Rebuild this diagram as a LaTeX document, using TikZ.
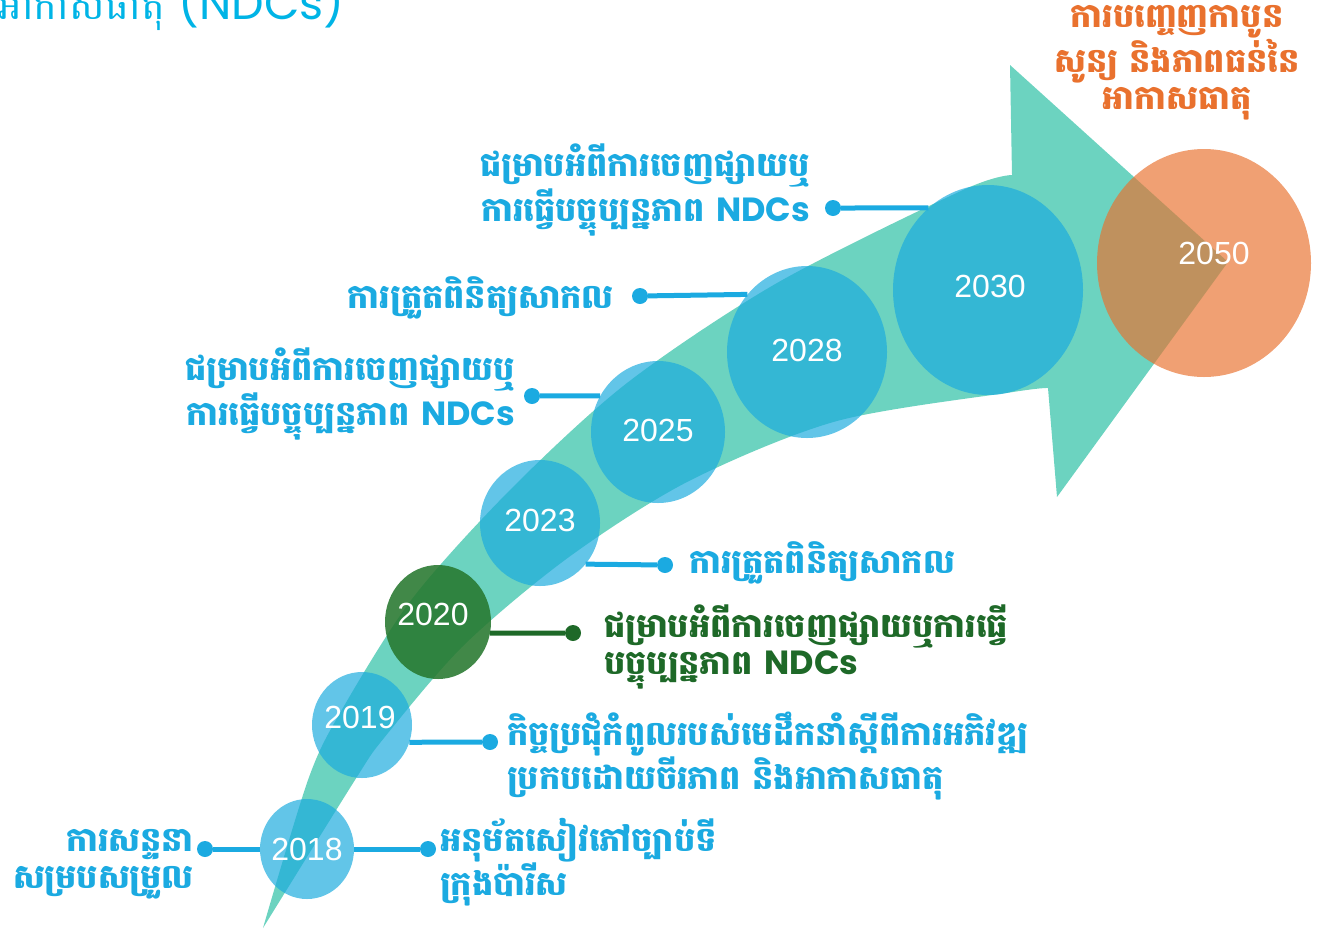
\documentclass[tikz,border=0pt]{standalone}
\usepackage{fontspec}
\usetikzlibrary{shapes.geometric}
\usetikzlibrary{positioning}
\newfontfamily\khmerfont[Script=Khmer]{Battambang}
\newfontfamily\latinfont{Poppins}
\newfontfamily\yearfont{Liberation Sans}
\definecolor{arrowteal}{HTML}{6CD3C0}
\definecolor{circblue}{HTML}{1CABDE}
\definecolor{lineblue}{HTML}{1BAAE1}
\definecolor{titleblue}{HTML}{00B4E6}
\definecolor{darkgreen}{HTML}{27782F}
\definecolor{textgreen}{HTML}{1E6928}
\definecolor{orangec}{HTML}{E9712E}

\begin{document}
\begin{tikzpicture}[x=1pt, y=-1pt,
			yr/.style={ellipse, inner sep=0pt, fill=circblue, fill opacity=0.69},
			yrtext/.style={inner sep=0pt, text=white, font=\yearfont\fontsize{32}{32}\selectfont},
			dot/.style={circle, fill=lineblue, inner sep=0pt, minimum size=16pt},
			conn/.style={draw=lineblue, line width=5pt},
			lbl/.style={text=lineblue, inner sep=0pt, font=\khmerfont\bfseries\fontsize{33.5}{37}\selectfont}]
			\useasboundingbox (0,0) rectangle (1322,930);
			\clip (0,0) rectangle (1322,930);
			
			% title, cut by the top edge
			\node[anchor=base east, inner sep=0pt, text=titleblue](title) at (345,19) {\khmerfont\fontsize{40}{40}\selectfont អាកាសធាតុ \latinfont\fontsize{46}{46}\selectfont (NDCs)};
			
			% the big arrow
			\fill[arrowteal] plot[smooth] coordinates {(263,928) (308,780) (340,713) (412,599) (511,489) (627,383) (777,283) (963,190) (1012,175)}
				-- (1010,65) -- (1228,262) -- (1057,497)
				-- plot[smooth] coordinates {(1048,388) (1013,392) (837,421) (689,481) (569,557) (464,645) (384,738) (355,780) (263,928)} -- cycle;
			
			% years
			\node[yr, minimum width=94pt, minimum height=100pt](y2018) at (307,849) {};
			\node[yr, minimum width=100pt, minimum height=106pt](y2019) at (362,725) {};
			\node[yr, fill=darkgreen, fill opacity=0.88, minimum width=106pt, minimum height=114pt](y2020) at (438,622) {};
			\node[yr, minimum width=120pt, minimum height=126pt](y2023) at (540,523) {};
			\node[yr, minimum width=134pt, minimum height=142pt](y2025) at (658,432) {};
			\node[yr, minimum width=160pt, minimum height=172pt](y2028) at (807,352) {};
			\node[yr, minimum width=190pt, minimum height=210pt](y2030) at (988,290) {};
			\node[yr, fill=orangec, fill opacity=0.67, minimum width=214pt, minimum height=228pt](y2050) at (1204,263) {};
			\node[yrtext](n2018) at (307,849) {2018};
			\node[yrtext](n2019) at (360,717) {2019};
			\node[yrtext](n2020) at (433,614) {2020};
			\node[yrtext](n2023) at (540,520) {2023};
			\node[yrtext](n2025) at (658,430) {2025};
			\node[yrtext](n2028) at (807,350) {2028};
			\node[yrtext](n2030) at (990,286) {2030};
			\node[yrtext](n2050) at (1214,253) {2050};
			
			% dots and connectors
			\node[dot](d2018l) at (205,849) {};
			\node[dot](d2018r) at (428,849) {};
			\node[dot](d2019) at (490,742) {};
			\node[dot, fill=textgreen](d2020) at (573,633) {};
			\node[dot](d2023) at (665,565) {};
			\node[dot](d2025) at (532,396) {};
			\node[dot](d2028) at (640,296) {};
			\node[dot](d2030) at (833,208) {};
			\draw[conn] (y2018.west) -- (d2018l);
			\draw[conn] (y2018.east) -- (d2018r);
			\draw[conn] (y2019.-20) -- (d2019);
			\draw[conn, draw=textgreen] (y2020.-12) -- (d2020);
			\draw[conn] (y2023.-42) -- (d2023);
			\draw[conn] (y2025.148) -- (d2025);
			\draw[conn] (y2028.136) -- (d2028);
			\draw[conn] (y2030.126) -- (d2030);
			
			% labels
			\node[lbl, anchor=east, align=right](t2018l) at (194,864) {ការសន្ទនា\\សម្របសម្រួល};
			\node[lbl, anchor=west, align=left](t2018r) at (440,862) {អនុម័តសៀវភៅច្បាប់ទី\\ក្រុងប៉ារីស};
			\node[lbl, anchor=west, align=left](t2019) at (507,756) {កិច្ចប្រជុំកំពូលរបស់មេដឹកនាំស្ដីពីការអភិវឌ្ឍ\\ប្រកបដោយចីរភាព និងអាកាសធាតុ};
			\node[lbl, text=textgreen, anchor=west, align=left](t2020) at (604,647) {ជម្រាបអំពីការចេញផ្សាយឬការធ្វើ\\បច្ចុប្បន្នភាព {\latinfont NDCs}};
			\node[lbl, anchor=west](t2023) at (689,563) {ការត្រួតពិនិត្យសាកល};
			\node[lbl, anchor=east, align=right](t2025) at (515,394) {ជម្រាបអំពីការចេញផ្សាយឬ\\ការធ្វើបច្ចុប្បន្នភាព {\latinfont NDCs}};
			\node[lbl, anchor=east](t2028) at (614,298) {ការត្រួតពិនិត្យសាកល};
			\node[lbl, anchor=east, align=right](t2030) at (810,190) {ជម្រាបអំពីការចេញផ្សាយឬ\\ការធ្វើបច្ចុប្បន្នភាព {\latinfont NDCs}};
			\node[lbl, text=orangec, align=center](t2050) at (1177,63) {ការបញ្ចេញកាបូន\\សូន្យ និងភាពធន់នៃ\\អាកាសធាតុ};
			\end{tikzpicture}
\end{document}
